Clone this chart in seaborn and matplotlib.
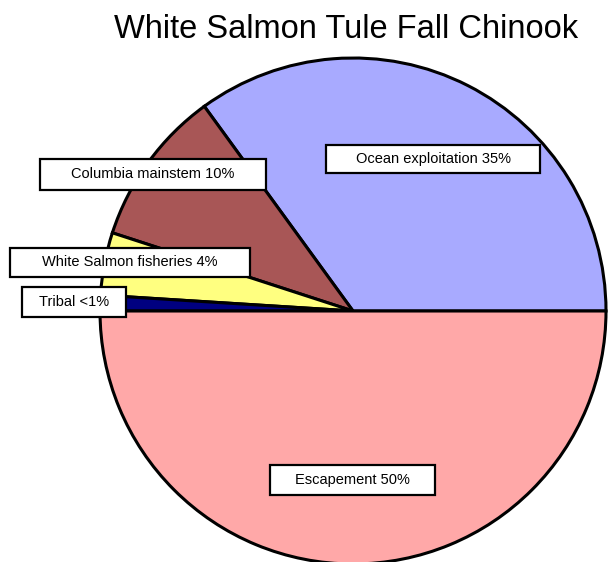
import matplotlib
matplotlib.use("Agg")
import matplotlib.pyplot as plt
import seaborn as sns

labels = ["Ocean exploitation 35%", "Columbia mainstem 10%",
          "White Salmon fisheries 4%", "Tribal <1%", "Escapement 50%"]
shares = [35, 10, 4, 1, 50]
colors = ["#A8AAFF", "#A85656", "#FFFF80", "#000080", "#FFA8A8"]

sns.set_style("white")
plt.rcParams['font.family'] = ['Liberation Sans', 'DejaVu Sans']
plt.rcParams['text.color'] = 'black'

fig = plt.figure(figsize=(6.08, 5.62), dpi=100)
ax = fig.add_axes([0, 0, 1, 1])
ax.set_xlim(0, 608)
ax.set_ylim(0, 562)
ax.set_aspect('equal')
ax.axis('off')

ax.pie(shares, colors=colors, startangle=0, counterclock=True,
       center=(353, 251), radius=253,
       wedgeprops=dict(edgecolor='black', linewidth=2.2))
ax.set_xlim(0, 608)
ax.set_ylim(0, 562)

# label boxes (pixel centres from the picture, y measured from bottom)
label_pos = [(433, 403), (153, 388), (130, 300), (74, 260), (352, 82)]
box_w = [214, 226, 240, 104, 165]
box_h = [28, 31, 29, 30, 30]
for lab, (x, y), w, h in zip(labels, label_pos, box_w, box_h):
    ax.add_patch(plt.Rectangle((x - w / 2, y - h / 2), w, h, facecolor='white',
                               edgecolor='black', linewidth=1.6, zorder=5))
    ax.text(x, y, lab, ha='center', va='center', fontsize=10.5, color='black',
            zorder=6)

ax.text(346, 532, "White Salmon Tule Fall Chinook", ha='center', va='center',
        fontsize=23.5, color='black')

fig.savefig("out.png", dpi=100)
